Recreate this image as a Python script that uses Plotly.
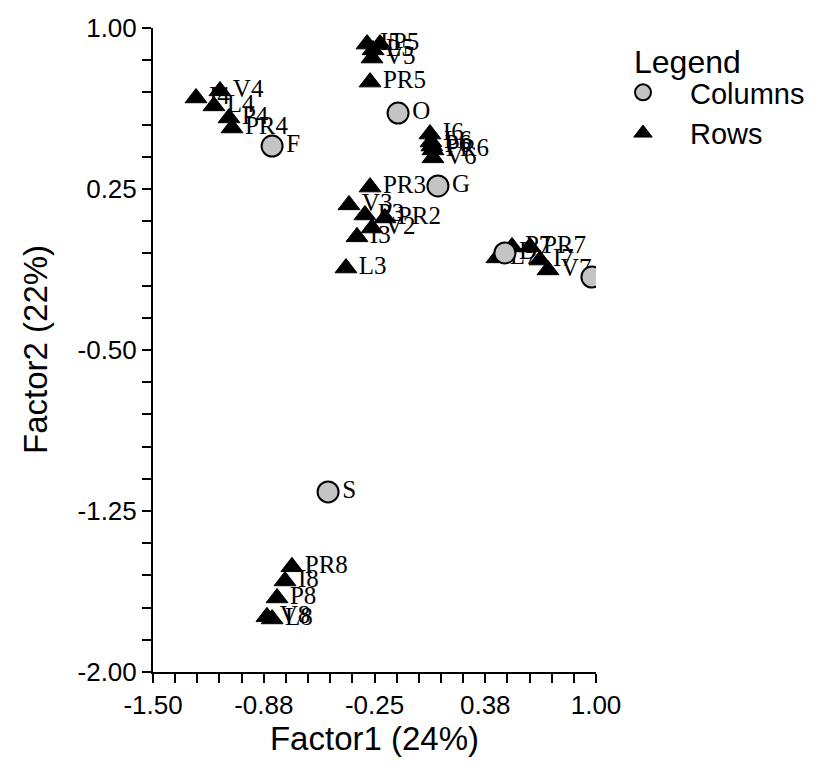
import plotly.graph_objects as go

# Columns (circles)
col_labels = ["O", "F", "G", "S", "D", "I"]
col_x = [-0.117, -0.828, 0.108, -0.512, 0.486, 0.977]
col_y = [0.604, 0.450, 0.264, -1.161, -0.048, -0.160]

# Rows (triangles)
row_labels = ["I4", "V4", "L4", "P4", "PR4",
              "I5", "P5", "L5", "V5", "PR5",
              "I6", "L6", "P6", "PR6", "V6",
              "PR3", "V3", "P3", "PR2", "V2", "I3", "L3",
              "L7", "P7", "PR7", "I7", "V7",
              "PR8", "I8", "P8", "V8", "L8"]
row_x = [-1.257, -1.122, -1.156, -1.071, -1.054,
         -0.292, -0.219, -0.258, -0.264, -0.275,
         0.063, 0.069, 0.074, 0.080, 0.080,
         -0.275, -0.394, -0.304, -0.191, -0.264, -0.349, -0.411,
         0.441, 0.526, 0.628, 0.684, 0.729,
         -0.716, -0.755, -0.800, -0.857, -0.828]
row_y = [0.674, 0.707, 0.637, 0.581, 0.534,
         0.925, 0.925, 0.898, 0.860, 0.748,
         0.506, 0.469, 0.450, 0.432, 0.395,
         0.259, 0.176, 0.129, 0.115, 0.068, 0.027, -0.118,
         -0.071, -0.020, -0.020, -0.081, -0.127,
         -1.510, -1.576, -1.655, -1.743, -1.753]

x_ticks = [-1.5, -0.875, -0.25, 0.375, 1.0]
x_ticktext = ["-1.50", "-0.88", "-0.25", "0.38", "1.00"]
y_ticks = [1.0, 0.25, -0.5, -1.25, -2.0]
y_ticktext = ["1.00", "0.25", "-0.50", "-1.25", "-2.00"]
x_minor = [-1.5 + 0.125 * i for i in range(21)]
y_minor = [-2.0 + 0.15 * i for i in range(21)]

label_font = dict(family="Liberation Serif, Times New Roman, serif", size=25, color="black")

fig = go.Figure()
fig.add_trace(go.Scatter(
    x=row_x, y=row_y, mode="markers+text", name="Rows",
    text=row_labels, textposition="middle right", textfont=label_font,
    marker=dict(symbol="triangle-up", size=19, color="black",
                line=dict(color="black", width=1)),
))
fig.add_trace(go.Scatter(
    x=col_x, y=col_y, mode="markers+text", name="Columns",
    text=col_labels, textposition="middle right", textfont=label_font,
    marker=dict(symbol="circle", size=21, color="#c4c4c4",
                line=dict(color="black", width=2)),
))

axis_font = dict(family="Liberation Sans, Arial, sans-serif", size=26, color="black")
title_font = dict(family="Liberation Sans, Arial, sans-serif", size=33, color="black")

# page body has an 8px margin; plot area target (page px): x 153..596, y 28..672
L, R, T, B = 145, 248, 20, 118
PW = 836 - L - R
PH = 782 - T - B

def px_x(p):
    return (p - 8 - L) / PW

def px_y(p):
    return 1 - (p - 8 - T) / PH

fig.update_layout(
    width=836, height=782,
    margin=dict(l=L, r=R, t=T, b=B, autoexpand=False),
    plot_bgcolor="white", paper_bgcolor="white",
    showlegend=True,
    legend=dict(
        font=dict(family="Liberation Sans, Arial, sans-serif", size=29, color="black"),
        traceorder="reversed",
        x=px_x(596), y=px_y(67), xanchor="left", yanchor="top",
        itemwidth=84, bgcolor="rgba(0,0,0,0)", tracegroupgap=0,
    ),
    xaxis=dict(
        range=[-1.5, 1.0], showgrid=False, zeroline=False, automargin=False,
        showline=True, linecolor="black", linewidth=2,
        ticks="outside", ticklen=9, tickwidth=2, tickcolor="black",
        tickmode="array", tickvals=x_ticks, ticktext=x_ticktext,
        tickfont=axis_font,
        minor=dict(tickmode="array", tickvals=x_minor, ticks="outside",
                   ticklen=9, tickwidth=2, tickcolor="black", showgrid=False),
        title=dict(text="Factor1 (24%)", font=title_font, standoff=8),
    ),
    yaxis=dict(
        range=[-2.0, 1.0], showgrid=False, zeroline=False, automargin=False,
        showline=True, linecolor="black", linewidth=2,
        ticks="outside", ticklen=9, tickwidth=2, tickcolor="black",
        tickmode="array", tickvals=y_ticks, ticktext=y_ticktext,
        tickfont=axis_font,
        minor=dict(tickmode="array", tickvals=y_minor, ticks="outside",
                   ticklen=9, tickwidth=2, tickcolor="black", showgrid=False),
    ),
    annotations=[
        dict(text="Factor2 (22%)", textangle=-90, font=title_font,
             xref="paper", yref="paper", x=px_x(35), y=0.5,
             xanchor="center", yanchor="middle", showarrow=False),
        dict(text="Legend",
             font=dict(family="Liberation Sans, Arial, sans-serif", size=32, color="black"),
             xref="paper", yref="paper", x=px_x(632), y=px_y(62),
             xanchor="left", yanchor="middle", showarrow=False),
    ],
)

fig.write_html("out.html")
